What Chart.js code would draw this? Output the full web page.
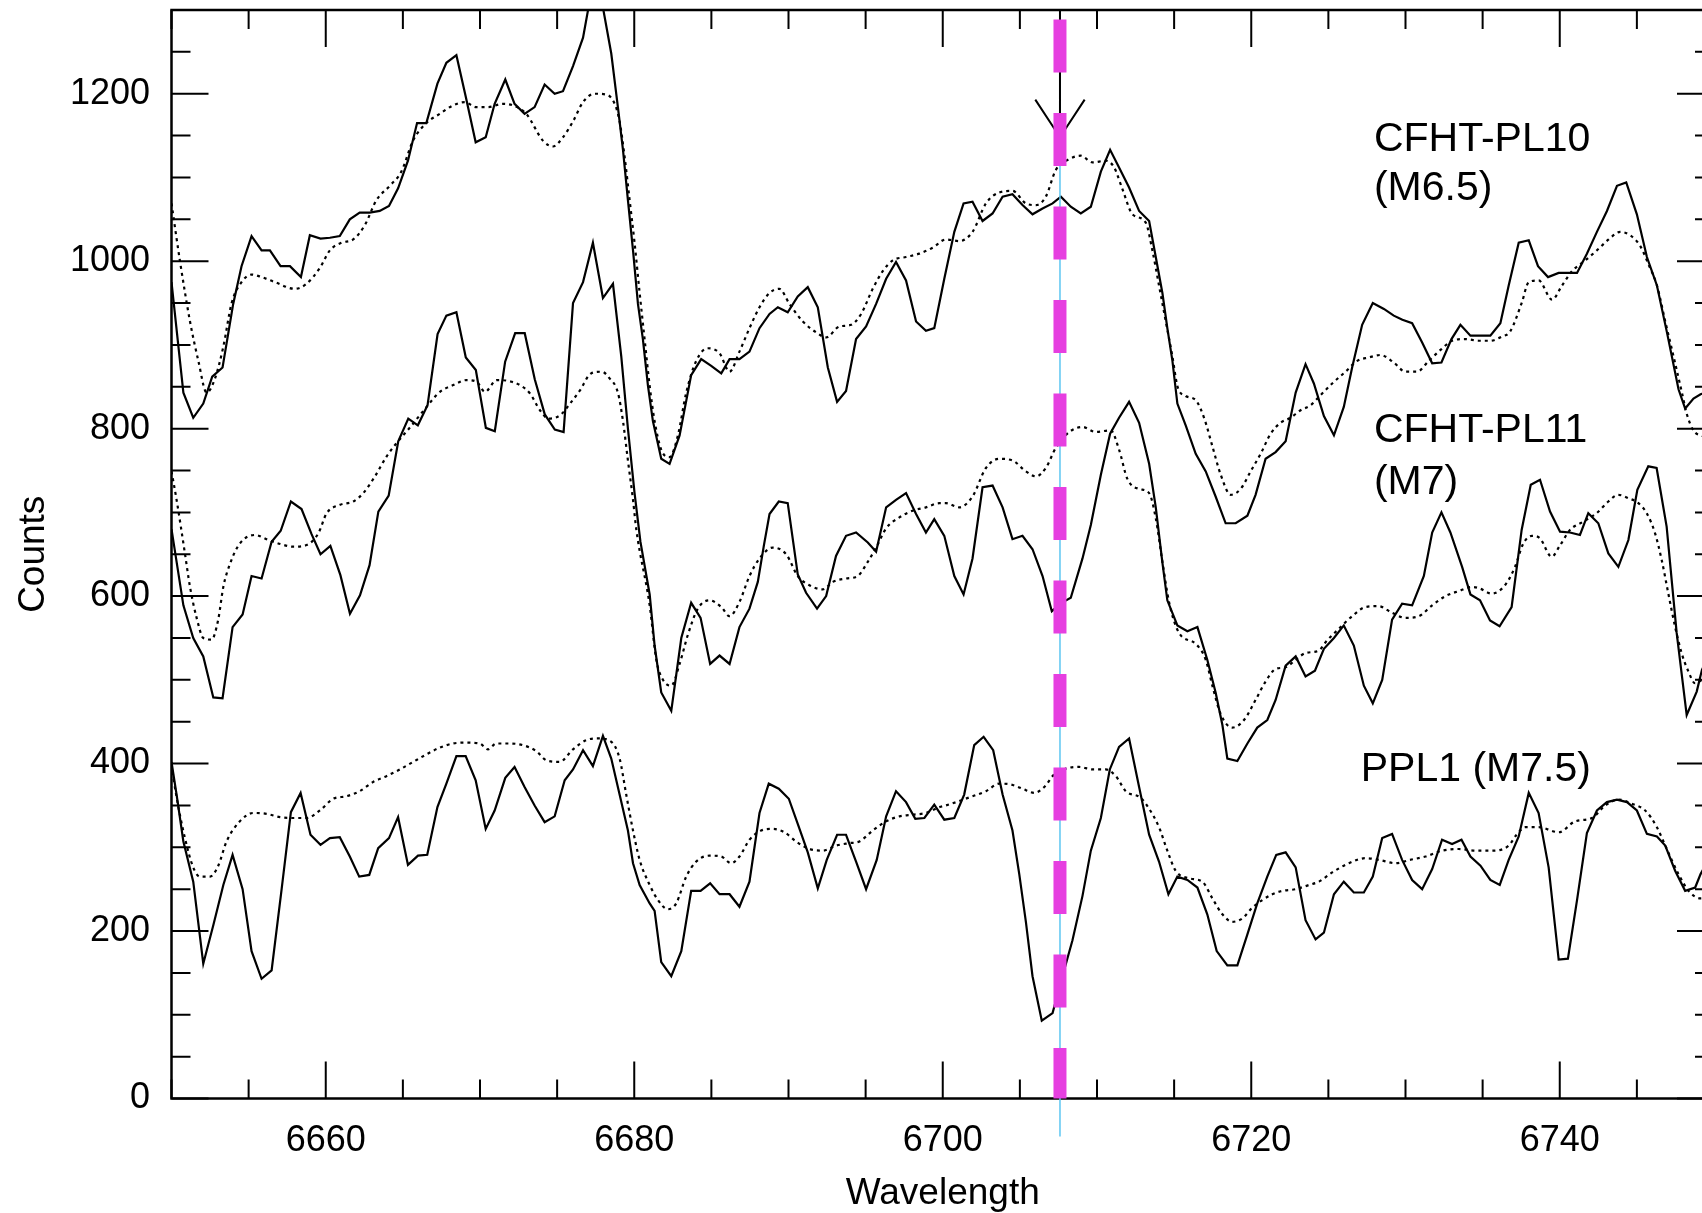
<!DOCTYPE html>
<html lang="en">
<head>
  <meta charset="UTF-8" />
  <title>Li 6708 spectra</title>
  <script src="https://cdn.jsdelivr.net/npm/chart.js"></script>
  <style>
    html, body {
      margin: 0;
      padding: 0;
      background-color: white;
      overflow: hidden;
    }

    .wrap {
      position: absolute;
      left: 0;
      top: 0;
      width: 1740px;
      height: 1213px;
    }

    canvas {
      display: block;
    }
  </style>
</head>
<body>
  <div class="wrap">
    <canvas id="spectraChart" width="1740" height="1213"></canvas>
  </div>

  <script>
    // wavelength (A), counts
    const pl10Spectrum = [[6650.0,975],[6650.77,843],[6651.41,813],[6652.06,830],[6652.64,862],[6653.31,873],[6654.0,949],[6654.54,994],[6655.19,1030],[6655.84,1013],[6656.38,1013],[6657.07,994],[6657.68,994],[6658.39,981],[6658.97,1031],[6659.66,1027],[6660.27,1028],[6660.91,1030],[6661.56,1050],[6662.2,1058],[6662.85,1058],[6663.5,1060],[6664.1,1066],[6664.69,1087],[6665.33,1120],[6665.92,1165],[6666.52,1165],[6667.24,1212],[6667.82,1237],[6668.47,1246],[6669.07,1197],[6669.72,1142],[6670.37,1148],[6670.95,1188],[6671.64,1217],[6672.24,1188],[6672.89,1176],[6673.54,1184],[6674.19,1211],[6674.84,1200],[6675.38,1203],[6676.03,1233],[6676.68,1267],[6677.3,1330],[6677.95,1305],[6678.51,1248],[6678.94,1184],[6679.27,1133],[6679.59,1073],[6679.92,1013],[6680.24,949],[6680.56,907],[6680.89,851],[6681.21,809],[6681.75,764],[6682.29,758],[6682.94,792],[6683.69,864],[6684.34,883],[6684.99,875],[6685.64,866],[6686.18,883],[6686.82,883],[6687.47,892],[6688.12,920],[6688.77,937],[6689.31,945],[6689.95,939],[6690.6,958],[6691.25,969],[6691.9,945],[6692.55,873],[6693.15,832],[6693.73,845],[6694.38,907],[6695.03,922],[6695.68,949],[6696.33,979],[6696.97,999],[6697.62,977],[6698.27,928],[6698.91,917],[6699.45,920],[6700.1,979],[6700.75,1035],[6701.35,1069],[6701.93,1071],[6702.58,1048],[6703.23,1057],[6703.88,1077],[6704.52,1080],[6705.17,1067],[6705.82,1056],[6706.47,1063],[6707.12,1069],[6707.66,1077],[6708.3,1065],[6708.95,1057],[6709.6,1065],[6710.25,1107],[6710.85,1133],[6711.43,1112],[6712.08,1088],[6712.73,1060],[6713.38,1048],[6713.81,1005],[6714.24,962],[6714.56,920],[6714.89,881],[6715.21,830],[6715.75,804],[6716.4,770],[6717.05,749],[6717.69,719],[6718.34,687],[6718.99,687],[6719.75,696],[6720.28,721],[6720.93,764],[6721.58,772],[6722.23,785],[6722.88,843],[6723.52,877],[6724.06,854],[6724.71,815],[6725.36,792],[6726.0,826],[6726.54,873],[6727.19,924],[6727.88,950],[6728.6,943],[6729.24,935],[6729.8,930],[6730.43,926],[6731.08,903],[6731.73,878],[6732.33,879],[6732.98,907],[6733.56,924],[6734.21,911],[6734.86,911],[6735.5,911],[6736.15,926],[6736.69,971],[6737.34,1022],[6737.99,1025],[6738.59,994],[6739.24,981],[6739.93,986],[6740.58,986],[6741.12,986],[6741.76,1009],[6742.41,1035],[6743.06,1060],[6743.71,1090],[6744.31,1094],[6745.0,1056],[6745.65,1005],[6746.3,971],[6746.95,915],[6747.7,847],[6748.13,824],[6748.67,836],[6749.13,841],[6749.8,845]];

    const pl10Template = [[6650.0,1069],[6650.55,1000],[6651.2,928],[6651.74,881],[6652.28,843],[6652.82,860],[6653.36,898],[6653.9,950],[6654.54,975],[6655.19,984],[6655.84,981],[6656.7,975],[6658.0,967],[6658.75,973],[6659.62,992],[6660.27,1013],[6661.02,1022],[6661.78,1026],[6662.53,1043],[6663.29,1073],[6664.15,1090],[6664.9,1107],[6665.66,1144],[6666.52,1165],[6667.39,1176],[6668.25,1186],[6669.01,1190],[6669.76,1184],[6670.52,1184],[6671.49,1188],[6672.14,1186],[6673.0,1176],[6674.08,1144],[6674.73,1137],[6675.38,1148],[6676.03,1167],[6676.68,1190],[6677.43,1200],[6678.19,1199],[6678.73,1188],[6679.05,1167],[6679.38,1124],[6679.7,1073],[6680.02,1022],[6680.35,962],[6680.67,907],[6681.0,851],[6681.32,809],[6681.75,775],[6682.29,766],[6682.83,792],[6683.37,843],[6684.02,881],[6684.77,896],[6685.53,890],[6686.18,868],[6686.82,892],[6687.47,920],[6688.12,945],[6688.77,962],[6689.41,967],[6690.06,949],[6690.93,928],[6691.79,915],[6692.44,909],[6693.3,922],[6694.06,924],[6694.71,937],[6695.46,967],[6696.11,988],[6696.76,1001],[6697.62,1005],[6698.48,1009],[6699.34,1016],[6700.21,1026],[6701.07,1024],[6701.93,1035],[6702.8,1069],[6703.66,1082],[6704.52,1084],[6705.39,1069],[6706.04,1067],[6706.68,1077],[6707.33,1109],[6708.2,1122],[6708.95,1126],[6709.71,1118],[6710.57,1120],[6711.11,1112],[6711.65,1086],[6712.3,1056],[6713.16,1046],[6713.59,1013],[6714.02,971],[6714.46,928],[6714.89,886],[6715.21,851],[6715.75,839],[6716.4,834],[6716.94,813],[6717.48,779],[6718.02,745],[6718.67,721],[6719.31,728],[6719.96,749],[6720.61,770],[6721.26,794],[6721.9,807],[6722.55,813],[6723.2,822],[6723.85,828],[6724.39,838],[6725.25,854],[6726.11,868],[6726.87,881],[6727.62,885],[6728.38,888],[6729.24,879],[6730.0,868],[6730.75,868],[6731.51,881],[6732.27,894],[6733.02,905],[6733.88,907],[6734.75,905],[6735.5,905],[6736.26,910],[6736.78,916],[6737.53,950],[6737.99,975],[6738.63,977],[6739.5,954],[6740.15,971],[6740.79,988],[6741.66,1001],[6742.41,1013],[6743.17,1026],[6743.92,1035],[6744.57,1031],[6745.22,1018],[6745.76,996],[6746.3,971],[6746.84,928],[6747.38,886],[6747.92,843],[6748.23,818],[6748.66,798],[6749.1,792],[6749.8,790]];

    const pl11Spectrum = [[6650.0,680],[6650.77,589],[6651.41,550],[6652.06,528],[6652.71,479],[6653.31,478],[6653.96,563],[6654.61,578],[6655.19,624],[6655.84,621],[6656.49,665],[6657.08,678],[6657.74,713],[6658.43,704],[6659.08,674],[6659.66,650],[6660.3,660],[6660.95,625],[6661.57,579],[6662.22,601],[6662.84,637],[6663.41,701],[6664.08,720],[6664.7,785],[6665.35,812],[6665.97,804],[6666.6,828],[6667.25,913],[6667.82,935],[6668.47,939],[6669.08,885],[6669.73,870],[6670.38,801],[6670.96,797],[6671.63,880],[6672.28,914],[6672.9,914],[6673.55,859],[6674.2,817],[6674.85,799],[6675.42,796],[6676.03,950],[6676.68,975],[6677.32,1022],[6677.97,956],[6678.62,973],[6679.16,886],[6679.59,800],[6680.02,723],[6680.4,665],[6681.0,602],[6681.32,541],[6681.75,485],[6682.4,463],[6683.05,550],[6683.69,592],[6684.3,574],[6684.92,519],[6685.53,529],[6686.18,519],[6686.82,563],[6687.47,585],[6688.01,617],[6688.4,660],[6688.77,698],[6689.37,713],[6689.95,711],[6690.6,626],[6691.14,604],[6691.85,585],[6692.44,600],[6693.08,648],[6693.73,672],[6694.38,676],[6695.14,664],[6695.68,653],[6696.33,706],[6696.97,715],[6697.62,723],[6698.27,698],[6698.91,676],[6699.45,692],[6700.1,672],[6700.75,624],[6701.35,602],[6701.93,645],[6702.58,730],[6703.23,732],[6703.88,706],[6704.52,668],[6705.17,672],[6705.82,656],[6706.47,624],[6707.07,582],[6707.7,592],[6708.3,598],[6709.06,645],[6709.6,685],[6710.25,745],[6710.85,794],[6711.43,813],[6712.08,832],[6712.73,807],[6713.38,758],[6713.81,706],[6714.24,640],[6714.56,595],[6715.21,565],[6715.86,558],[6716.51,563],[6717.15,524],[6717.69,485],[6718.13,446],[6718.45,406],[6719.1,403],[6719.75,424],[6720.39,443],[6721.04,452],[6721.58,476],[6722.23,517],[6722.88,528],[6723.52,504],[6724.13,511],[6724.71,537],[6725.36,550],[6726.0,565],[6726.65,541],[6727.3,493],[6727.88,472],[6728.49,500],[6729.13,572],[6729.78,591],[6730.43,589],[6731.19,624],[6731.73,676],[6732.33,700],[6732.91,676],[6733.67,635],[6734.21,602],[6734.83,595],[6735.48,571],[6736.1,564],[6736.88,587],[6737.53,679],[6738.12,733],[6738.72,739],[6739.37,701],[6740.02,677],[6740.66,676],[6741.31,673],[6741.85,699],[6742.5,687],[6743.15,651],[6743.8,635],[6744.45,667],[6745.03,727],[6745.74,755],[6746.28,753],[6746.93,683],[6747.58,556],[6748.23,458],[6748.88,486],[6749.22,512],[6749.8,535]];

    const pl11Template = [[6650.0,749],[6650.33,715],[6650.87,651],[6651.2,611],[6651.63,574],[6652.06,550],[6652.6,548],[6653.03,572],[6653.36,611],[6653.8,639],[6654.44,663],[6655.41,673],[6656.28,667],[6657.1,662],[6657.9,659],[6658.76,661],[6659.52,675],[6660.06,699],[6660.93,709],[6661.79,713],[6662.43,723],[6663.19,743],[6663.95,767],[6664.6,783],[6665.35,799],[6666.54,826],[6667.4,844],[6668.27,852],[6669.13,858],[6669.78,856],[6670.32,844],[6671.08,858],[6671.84,857],[6672.59,852],[6673.24,842],[6673.89,822],[6674.43,812],[6675.19,816],[6675.84,830],[6676.49,846],[6677.2,866],[6677.9,868],[6678.4,860],[6678.94,843],[6679.27,809],[6679.59,762],[6679.92,715],[6680.13,680],[6681.0,589],[6681.43,524],[6681.86,500],[6682.4,493],[6682.94,519],[6683.48,554],[6684.12,585],[6684.88,595],[6685.64,587],[6686.18,576],[6686.82,593],[6687.47,624],[6688.12,645],[6688.98,658],[6689.85,650],[6690.6,624],[6691.36,613],[6692.22,608],[6692.87,617],[6693.73,621],[6694.49,624],[6695.14,641],[6695.68,658],[6696.33,681],[6697.19,694],[6698.05,702],[6698.91,706],[6699.78,711],[6700.21,711],[6701.07,706],[6701.93,719],[6702.8,753],[6703.66,764],[6704.52,762],[6705.39,749],[6706.04,743],[6706.68,753],[6707.33,777],[6708.2,796],[6709.06,802],[6709.92,796],[6710.89,798],[6711.43,775],[6711.97,740],[6712.73,728],[6713.38,723],[6713.81,693],[6714.24,641],[6714.67,593],[6715.32,556],[6716.4,543],[6717.05,524],[6717.48,493],[6718.02,459],[6718.77,443],[6719.53,452],[6720.28,476],[6720.93,498],[6721.58,513],[6722.23,515],[6722.88,524],[6723.52,532],[6724.39,535],[6724.82,545],[6725.68,561],[6726.54,576],[6727.41,587],[6728.27,588],[6729.13,580],[6730.0,574],[6730.86,576],[6731.73,589],[6732.59,600],[6733.45,606],[6734.32,611],[6734.83,609],[6735.59,603],[6736.45,613],[6737.1,635],[6737.64,663],[6738.2,672],[6738.72,669],[6739.48,647],[6740.0,660],[6740.66,679],[6741.53,689],[6742.39,699],[6743.15,713],[6743.8,721],[6744.45,717],[6745.1,711],[6745.64,699],[6746.18,675],[6746.61,643],[6747.04,603],[6747.47,564],[6747.9,532],[6748.34,510],[6748.77,496],[6749.22,500],[6749.8,510]];

    const ppl1Spectrum = [[6650.0,402],[6650.33,363],[6650.77,307],[6651.41,259],[6652.06,161],[6652.71,207],[6653.36,255],[6653.96,291],[6654.61,250],[6655.19,176],[6655.84,143],[6656.49,153],[6657.14,250],[6657.74,342],[6658.37,365],[6659.01,315],[6659.66,303],[6660.27,311],[6660.91,312],[6661.56,289],[6662.17,265],[6662.82,267],[6663.4,299],[6664.1,311],[6664.69,336],[6665.33,279],[6665.98,290],[6666.58,291],[6667.24,348],[6667.82,376],[6668.47,409],[6669.07,409],[6669.72,380],[6670.37,322],[6670.95,344],[6671.64,383],[6672.24,396],[6672.89,372],[6673.54,350],[6674.19,330],[6674.84,337],[6675.49,380],[6676.03,393],[6676.68,416],[6677.32,397],[6677.97,433],[6678.51,406],[6679.05,363],[6679.59,320],[6679.92,281],[6680.35,255],[6681.0,233],[6681.32,224],[6681.75,163],[6682.4,146],[6683.05,176],[6683.69,248],[6684.3,248],[6684.92,257],[6685.53,244],[6686.18,244],[6686.82,229],[6687.47,259],[6688.12,341],[6688.72,376],[6689.37,370],[6690.02,358],[6690.6,328],[6691.25,294],[6691.9,251],[6692.48,285],[6693.15,315],[6693.73,315],[6694.38,283],[6695.03,250],[6695.72,285],[6696.33,337],[6696.97,367],[6697.62,354],[6698.22,334],[6698.81,335],[6699.45,351],[6700.1,333],[6700.75,335],[6701.39,363],[6702.04,422],[6702.65,432],[6703.27,416],[6703.88,363],[6704.52,320],[6704.96,268],[6705.39,211],[6705.82,146],[6706.42,93],[6707.12,102],[6707.76,146],[6708.41,189],[6709.06,242],[6709.6,296],[6710.25,335],[6710.83,393],[6711.43,420],[6712.08,430],[6712.73,372],[6713.38,315],[6714.02,283],[6714.63,244],[6715.21,265],[6715.86,261],[6716.51,252],[6717.15,220],[6717.76,176],[6718.45,159],[6719.1,159],[6719.75,196],[6720.39,233],[6721.04,265],[6721.62,291],[6722.23,294],[6722.88,276],[6723.52,213],[6724.17,190],[6724.71,198],[6725.36,244],[6726.0,259],[6726.65,246],[6727.3,246],[6727.88,265],[6728.49,311],[6729.13,316],[6729.78,285],[6730.43,261],[6731.08,250],[6731.73,274],[6732.37,309],[6733.02,304],[6733.63,309],[6734.21,289],[6734.86,278],[6735.5,261],[6736.11,255],[6736.69,285],[6737.34,313],[6737.99,365],[6738.63,341],[6739.28,276],[6739.93,166],[6740.53,167],[6741.12,237],[6741.76,317],[6742.41,344],[6743.06,354],[6743.71,357],[6744.36,354],[6745.0,344],[6745.65,316],[6746.3,313],[6746.84,302],[6747.48,272],[6748.13,248],[6748.78,252],[6749.13,268],[6749.8,290]];

    const ppl1Template = [[6650.0,398],[6650.3,363],[6650.87,311],[6651.41,276],[6651.85,265],[6652.5,265],[6653.03,278],[6653.57,307],[6654.43,331],[6655.3,341],[6656.16,340],[6657.03,336],[6657.9,335],[6658.76,335],[6659.62,344],[6660.48,358],[6661.34,361],[6662.2,367],[6663.07,378],[6663.93,385],[6664.8,393],[6665.66,402],[6666.53,411],[6667.39,419],[6668.25,424],[6669.12,425],[6669.98,424],[6670.52,417],[6671.06,424],[6671.92,424],[6672.78,422],[6673.64,415],[6674.3,404],[6675.16,402],[6676.03,417],[6676.89,428],[6677.65,430],[6678.51,426],[6679.05,406],[6679.48,363],[6679.92,320],[6680.35,285],[6681.0,255],[6681.54,237],[6682.18,226],[6682.72,233],[6683.37,265],[6684.02,283],[6684.88,290],[6685.64,289],[6686.28,281],[6686.82,289],[6687.47,309],[6688.23,320],[6688.98,322],[6689.74,318],[6690.49,307],[6691.36,298],[6692.22,296],[6693.08,302],[6693.95,305],[6694.6,307],[6695.46,320],[6696.33,331],[6697.19,337],[6698.05,339],[6698.91,341],[6699.78,348],[6700.21,350],[6701.93,361],[6702.8,367],[6703.66,376],[6704.42,375],[6705.17,370],[6705.93,365],[6706.58,372],[6707.22,387],[6707.98,394],[6708.84,396],[6709.71,393],[6710.57,393],[6711.22,385],[6711.87,367],[6712.84,359],[6713.38,346],[6714.02,324],[6714.56,296],[6715.1,272],[6715.97,263],[6716.83,259],[6717.48,239],[6718.13,220],[6718.77,211],[6719.42,215],[6720.07,228],[6720.72,237],[6721.37,244],[6722.01,248],[6722.88,250],[6723.74,255],[6724.39,259],[6725.25,270],[6726.33,281],[6727.41,287],[6728.27,285],[6729.35,281],[6730.3,285],[6731.3,289],[6732.37,296],[6733.45,298],[6734.53,296],[6735.61,296],[6736.69,302],[6737.2,315],[6737.77,324],[6738.63,324],[6739.93,318],[6741.0,331],[6742.09,335],[6742.95,350],[6743.82,357],[6744.68,352],[6745.54,344],[6746.3,324],[6746.84,302],[6747.7,268],[6748.35,248],[6749.13,239],[6749.8,240]];

    const xMajorTicks = [6660, 6680, 6700, 6720, 6740];
    const yMajorTicks = [0, 200, 400, 600, 800, 1000, 1200];
    const xMinorStep = 5;
    const yMinorStep = 50;

    const liWave = 6707.6;
    const arrowTip = 1148;
    const arrowWing = 1193;
    const arrowHalf = 1.6;

    const starLabels = ["CFHT-PL10", "(M6.5)", "CFHT-PL11", "(M7)", "PPL1 (M7.5)"];
    const starLabelWave = [6727.95, 6727.95, 6727.95, 6727.95, 6727.1];
    const starLabelCounts = [1145, 1087, 797, 735, 393];

    const FONT = '"Liberation Sans", Arial, Helvetica, sans-serif';
    Chart.defaults.color = "#000";
    Chart.defaults.font.family = FONT;

    const toPoints = pairs => pairs.map(([w, c]) => ({ x: w, y: c }));

    function solid(pairs) {
      return {
        data: toPoints(pairs),
        borderColor: "#000",
        borderWidth: 2.2,
        pointRadius: 0,
        tension: 0
      };
    }

    function dotted(pairs) {
      return {
        data: toPoints(pairs),
        borderColor: "#000",
        borderWidth: 2.2,
        borderDash: [3, 4],
        pointRadius: 0,
        cubicInterpolationMode: "monotone"
      };
    }

    const marksPlugin = {
      id: "marks",
      afterDatasetsDraw(chart) {
        const { ctx, chartArea: a, scales: { x, y } } = chart;
        const majorLen = 37;
        const minorLen = 19;
        ctx.save();

        // frame and inward ticks on all four sides
        ctx.strokeStyle = "#000";
        ctx.lineWidth = 2.5;
        ctx.strokeRect(a.left, a.top, a.right - a.left, a.bottom - a.top);

        ctx.lineWidth = 2;
        ctx.beginPath();
        for (let w = x.min; w <= x.max; w += xMinorStep) {
          const px = x.getPixelForValue(w);
          const len = xMajorTicks.includes(w) ? majorLen : minorLen;
          ctx.moveTo(px, a.bottom);
          ctx.lineTo(px, a.bottom - len);
          ctx.moveTo(px, a.top);
          ctx.lineTo(px, a.top + len);
        }
        for (let c = y.min; c <= y.max; c += yMinorStep) {
          const py = y.getPixelForValue(c);
          const len = yMajorTicks.includes(c) ? majorLen : minorLen;
          ctx.moveTo(a.left, py);
          ctx.lineTo(a.left + len, py);
          ctx.moveTo(a.right, py);
          ctx.lineTo(a.right - len, py);
        }
        ctx.stroke();

        // Li line marker
        const lx = x.getPixelForValue(liWave);
        const tipY = y.getPixelForValue(arrowTip);
        const wingY = y.getPixelForValue(arrowWing);

        ctx.strokeStyle = "#5cc6f2";
        ctx.lineWidth = 1.5;
        ctx.beginPath();
        ctx.moveTo(lx, a.top);
        ctx.lineTo(lx, a.bottom + 38);
        ctx.stroke();

        ctx.strokeStyle = "#000";
        ctx.lineWidth = 2;
        ctx.beginPath();
        ctx.moveTo(lx, a.top);
        ctx.lineTo(lx, tipY);
        ctx.moveTo(x.getPixelForValue(liWave - arrowHalf), wingY);
        ctx.lineTo(lx, tipY);
        ctx.lineTo(x.getPixelForValue(liWave + arrowHalf), wingY);
        ctx.stroke();

        ctx.strokeStyle = "#e63fe0";
        ctx.lineWidth = 13;
        ctx.setLineDash([53, 40.5]);
        ctx.beginPath();
        ctx.moveTo(lx, a.top + 9.6);
        ctx.lineTo(lx, a.bottom);
        ctx.stroke();
        ctx.setLineDash([]);

        // star names
        ctx.fillStyle = "#000";
        ctx.font = "41px " + FONT;
        ctx.textAlign = "left";
        ctx.textBaseline = "middle";
        starLabels.forEach((t, i) => {
          ctx.fillText(t, x.getPixelForValue(starLabelWave[i]), y.getPixelForValue(starLabelCounts[i]));
        });

        ctx.restore();
      }
    };

    new Chart(document.getElementById("spectraChart"), {
      type: "line",
      data: {
        datasets: [
          solid(pl10Spectrum),
          dotted(pl10Template),
          solid(pl11Spectrum),
          dotted(pl11Template),
          solid(ppl1Spectrum),
          dotted(ppl1Template)
        ]
      },
      options: {
        responsive: false,
        animation: false,
        devicePixelRatio: 1,
        layout: {
          padding: { top: 10, right: 26, bottom: 0, left: 0 }
        },
        plugins: {
          legend: { display: false },
          tooltip: { enabled: false }
        },
        scales: {
          x: {
            type: "linear",
            min: 6650,
            max: 6750,
            afterBuildTicks: s => { s.ticks = xMajorTicks.map(v => ({ value: v })); },
            afterFit: s => {
              s.height = 114.5;
              s.paddingLeft = 0;
              s.paddingRight = 0;
            },
            grid: { display: false, drawTicks: false },
            border: { display: false },
            ticks: {
              font: { size: 36 },
              padding: 21,
              maxRotation: 0,
              autoSkip: false,
              callback: v => String(v)
            },
            title: {
              display: true,
              text: "Wavelength",
              font: { size: 37, lineHeight: 1.05 },
              padding: { top: 0, bottom: 0 }
            }
          },
          y: {
            min: 0,
            max: 1300,
            afterBuildTicks: s => { s.ticks = yMajorTicks.map(v => ({ value: v })); },
            afterFit: s => {
              s.width = 171.5;
              s.paddingTop = 0;
              s.paddingBottom = 0;
            },
            grid: { display: false, drawTicks: false },
            border: { display: false },
            ticks: {
              font: { size: 36 },
              padding: 21.5,
              autoSkip: false,
              callback: v => String(v)
            },
            title: {
              display: true,
              text: "Counts",
              font: { size: 37 },
              padding: { top: 12, bottom: 0 }
            }
          }
        }
      },
      plugins: [marksPlugin]
    });
  </script>
</body>
</html>
